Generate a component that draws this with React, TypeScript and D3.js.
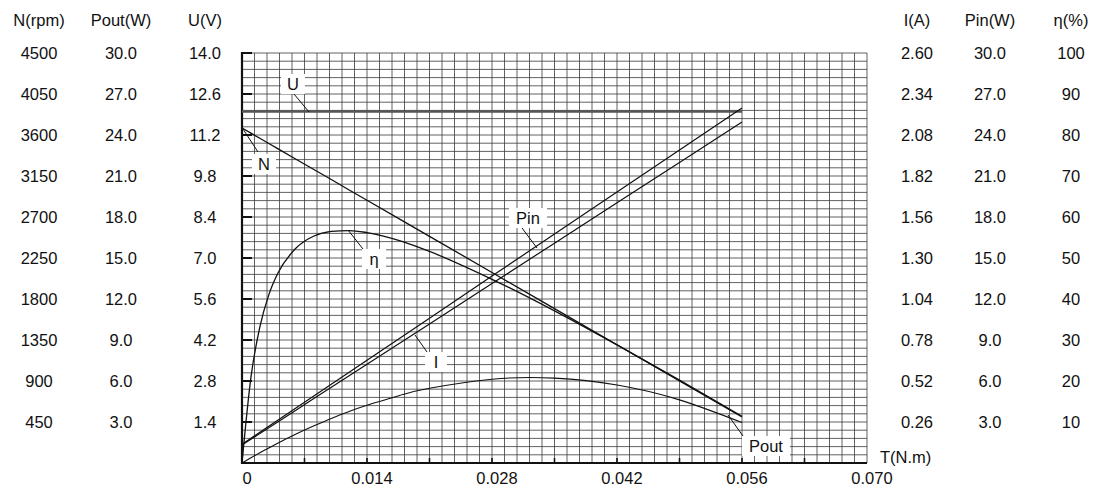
import React from "react";
import * as d3 from "d3";

// ---- data ----
const torque = [0, 0.001, 0.002, 0.003, 0.004, 0.006, 0.008, 0.010, 0.012, 0.014, 0.018, 0.021, 0.028, 0.035, 0.042, 0.049, 0.056];
const speedN = [3677, 3620, 3564, 3507, 3450, 3337, 3224, 3111, 2997, 2884, 2657, 2488, 2091, 1694, 1298, 901, 505];
const powerOut = [0, 0.38, 0.75, 1.10, 1.45, 2.10, 2.70, 3.26, 3.77, 4.23, 5.01, 5.47, 6.13, 6.21, 5.71, 4.62, 2.96];
const powerIn = [1.37, 1.81, 2.25, 2.69, 3.13, 4.01, 4.89, 5.77, 6.64, 7.52, 9.28, 10.60, 13.68, 16.75, 19.83, 22.91, 25.98];
const current = [0.114, 0.151, 0.187, 0.224, 0.260, 0.333, 0.407, 0.480, 0.553, 0.626, 0.772, 0.882, 1.138, 1.394, 1.650, 1.906, 2.162];
const efficiency = [0, 20.9, 33.2, 41.0, 46.2, 52.3, 55.3, 56.5, 56.7, 56.2, 54.0, 51.6, 44.8, 37.1, 28.8, 20.2, 11.4];
const voltage = [12, 12, 12, 12, 12, 12, 12, 12, 12, 12, 12, 12, 12, 12, 12, 12, 12];

const xTicks = [0, 0.014, 0.028, 0.042, 0.056, 0.070];
const nTicks = ["4500", "4050", "3600", "3150", "2700", "2250", "1800", "1350", "900", "450"];
const poutTicks = ["30.0", "27.0", "24.0", "21.0", "18.0", "15.0", "12.0", "9.0", "6.0", "3.0"];
const uTicks = ["14.0", "12.6", "11.2", "9.8", "8.4", "7.0", "5.6", "4.2", "2.8", "1.4"];
const iTicks = ["2.60", "2.34", "2.08", "1.82", "1.56", "1.30", "1.04", "0.78", "0.52", "0.26"];
const pinTicks = ["30.0", "27.0", "24.0", "21.0", "18.0", "15.0", "12.0", "9.0", "6.0", "3.0"];
const etaTicks = ["100", "90", "80", "70", "60", "50", "40", "30", "20", "10"];

const W = 1094, H = 486;
const L = 242, R = 867, T = 53, B = 463;
const FONT = "'Liberation Sans', Arial, Helvetica, sans-serif";
const FS = 16.5;

export default function App() {
  const x = d3.scaleLinear().domain([0, 0.07]).range([L, R]);
  const yN = d3.scaleLinear().domain([0, 4500]).range([B, T]);
  const yPout = d3.scaleLinear().domain([0, 30]).range([B, T]);
  const yU = d3.scaleLinear().domain([0, 14]).range([B, T]);
  const yI = d3.scaleLinear().domain([0, 2.6]).range([B, T]);
  const yPin = d3.scaleLinear().domain([0, 30]).range([B, T]);
  const yEta = d3.scaleLinear().domain([0, 100]).range([B, T]);
  const yGrid = d3.scaleLinear().domain([0, 10]).range([B, T]);

  const mk = (vals: number[], ys: d3.ScaleLinear<number, number>, curve: d3.CurveFactory) =>
    d3.line<number>().x((_, i) => x(torque[i])).y((v) => ys(v)).curve(curve)(vals) || "";

  const vGrid = d3.range(0, 51).map((k) => x((k * 0.07) / 50));
  const hGrid = d3.range(0, 51).map((k) => yGrid(k / 5));
  const majorY = d3.range(1, 11).map((k) => yGrid(k));
  const bottomTicks = d3.range(1, 10).map((k) => x(k * 0.007));

  const leftCols: [number, string, string[]][] = [
    [39, "N(rpm)", nTicks],
    [121, "Pout(W)", poutTicks],
    [205, "U(V)", uTicks],
  ];
  const rightCols: [number, string, string[]][] = [
    [917, "I(A)", iTicks],
    [990, "Pin(W)", pinTicks],
    [1071, "η(%)", etaTicks],
  ];

  const labels = [
    { t: "U", cx: 293, cy: 84, w: 24, p: [[294, 94], [309, 112]] },
    { t: "N", cx: 264, cy: 164, w: 24, p: [[243, 129], [258, 152]] },
    { t: "η", cx: 374, cy: 259, w: 24, p: [[348, 230], [363, 249]] },
    { t: "Pin", cx: 528, cy: 218, w: 38, p: [[522, 228], [537, 248]] },
    { t: "I", cx: 436, cy: 362, w: 22, p: [[415, 335], [427, 352]] },
    { t: "Pout", cx: 766, cy: 446, w: 48, p: [[728, 415], [743, 436]] },
  ];

  return (
    <svg width={W} height={H} style={{ position: "absolute", left: 0, top: 0, background: "#fff" }} fontFamily={FONT}>
      <rect x={0} y={0} width={W} height={H} fill="#fff" />
      {/* grid */}
      <g stroke="#3a3a3a" strokeWidth={0.8}>
        {vGrid.map((gx, i) => (
          <line key={"v" + i} x1={gx} x2={gx} y1={T} y2={B} />
        ))}
        {hGrid.map((gy, i) => (
          <line key={"h" + i} x1={L} x2={R} y1={gy} y2={gy} />
        ))}
      </g>
      {/* axes */}
      <line x1={L} x2={L} y1={T - 1} y2={B + 1} stroke="#111" strokeWidth={2.2} />
      <line x1={L - 1} x2={R} y1={B} y2={B} stroke="#111" strokeWidth={2.2} />
      {majorY.map((gy, i) => (
        <line key={"mt" + i} x1={L} x2={L + 10} y1={gy} y2={gy} stroke="#111" strokeWidth={2} />
      ))}
      {bottomTicks.map((gx, i) => (
        <line key={"bt" + i} x1={gx} x2={gx} y1={B} y2={B - 5} stroke="#111" strokeWidth={1.6} />
      ))}

      {/* series */}
      <g fill="none" strokeLinejoin="round">
        <path d={mk(voltage, yU, d3.curveLinear)} stroke="#555" strokeWidth={2.6} />
        <path d={mk(speedN, yN, d3.curveLinear)} stroke="#111" strokeWidth={1.3} />
        <path d={mk(efficiency, yEta, d3.curveMonotoneX)} stroke="#111" strokeWidth={1.3} />
        <path d={mk(powerOut, yPout, d3.curveNatural)} stroke="#111" strokeWidth={1.1} />
        <path d={mk(powerIn, yPin, d3.curveLinear)} stroke="#111" strokeWidth={1.2} />
        <path d={mk(current, yI, d3.curveLinear)} stroke="#111" strokeWidth={1.2} />
      </g>

      {/* curve labels */}
      {labels.map((lb) => (
        <g key={lb.t}>
          <line x1={lb.p[0][0]} y1={lb.p[0][1]} x2={lb.p[1][0]} y2={lb.p[1][1]} stroke="#111" strokeWidth={1} />
          <rect x={lb.cx - lb.w / 2} y={lb.cy - 10} width={lb.w} height={20} fill="#fff" />
          <text x={lb.cx} y={lb.cy} textAnchor="middle" dominantBaseline="central" fontSize={FS} fill="#111">
            {lb.t}
          </text>
        </g>
      ))}

      {/* x tick labels */}
      {xTicks.map((v, i) => (
        <text key={"xt" + i} x={x(v) + 5} y={478} textAnchor="middle" dominantBaseline="central" fontSize={FS} fill="#111">
          {i === 0 ? "0" : v.toFixed(3)}
        </text>
      ))}
      <text x={880} y={457} dominantBaseline="central" fontSize={FS} fill="#111">T(N.m)</text>

      {/* left and right columns */}
      {[...leftCols, ...rightCols].map(([cx, head, ticks]) => (
        <g key={head}>
          <text x={cx} y={20} textAnchor="middle" dominantBaseline="central" fontSize={FS} fill="#111">
            {head}
          </text>
          {ticks.map((t, i) => (
            <text key={i} x={cx} y={yGrid(10 - i)} textAnchor="middle" dominantBaseline="central" fontSize={FS} fill="#111">
              {t}
            </text>
          ))}
        </g>
      ))}
    </svg>
  );
}
